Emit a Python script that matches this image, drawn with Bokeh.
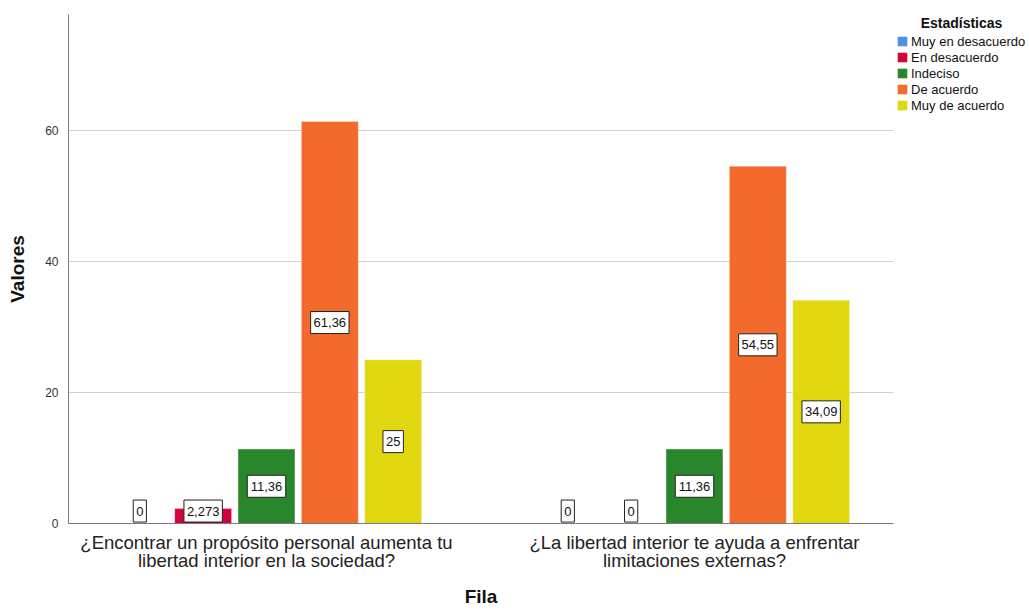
from bokeh.plotting import figure
from bokeh.layouts import row
from bokeh.models import (ColumnDataSource, Range1d, FixedTicker, Legend, LegendItem, Label)
from bokeh.core.properties import value
from bokeh.embed import file_html
from bokeh.resources import INLINE

categories = ["¿Encontrar un propósito personal aumenta tu\nlibertad interior en la sociedad?",
              "¿La libertad interior te ayuda a enfrentar\nlimitaciones externas?"]
series = ["Muy en desacuerdo", "En desacuerdo", "Indeciso", "De acuerdo", "Muy de acuerdo"]
muy_en_desacuerdo = [0, 0]
en_desacuerdo = [2.273, 0]
indeciso = [11.36, 11.36]
de_acuerdo = [61.36, 54.55]
muy_de_acuerdo = [25, 34.09]
values = [muy_en_desacuerdo, en_desacuerdo, indeciso, de_acuerdo, muy_de_acuerdo]
colors = ["#4C92E3", "#D5033C", "#2A862B", "#F26A2C", "#E2D812"]
y_ticks = [0, 20, 40, 60]

FONT = "Liberation Sans"
H = 610
TOP = 14
BOTTOM = 87


def text_width(s):
    return sum(3.6 if c == "," else 7.2 for c in s)


p = figure(width=895, height=H, output_backend="svg", toolbar_location=None,
           x_range=Range1d(-0.4626, 1.465), y_range=Range1d(0, 77.7),
           min_border_left=68, min_border_top=TOP, min_border_bottom=BOTTOM, min_border_right=2)
p.outline_line_color = None
p.background_fill_color = "white"
p.border_fill_color = "white"

step = 0.148
bw = 0.133
label_sources = []
for i, (name, vals, col) in enumerate(zip(series, values, colors)):
    xs = [g + (i - 2) * step for g in range(len(categories))]
    labs = [f"{v:.4g}".replace(".", ",") for v in vals]
    src = ColumnDataSource(dict(
        x=xs, top=vals,
        ly=[max(v / 2, 1.9) for v in vals],
        lab=labs,
        bw=[text_width(s) + 6 for s in labs]))
    p.vbar(x="x", top="top", width=bw, source=src, fill_color=col,
           line_color="white", line_alpha=0.35, line_width=1)
    label_sources.append(src)

for src in label_sources:
    p.rect(x="x", y="ly", width="bw", height=22, width_units="screen", height_units="screen",
           source=src, fill_color="white", line_color="#222222", line_width=1)
    p.text(x="x", y="ly", text="lab", source=src, text_align="center",
           text_baseline="middle", text_font=value(FONT), text_font_size="13px",
           text_color="#111111")

# axes
p.xaxis.ticker = FixedTicker(ticks=[0, 1])
p.xaxis.major_label_overrides = {0: categories[0], 1: categories[1]}
p.xaxis.major_label_text_font = FONT
p.xaxis.major_label_text_font_size = "18.5px"
p.xaxis.major_label_text_line_height = 0.9
p.xaxis.major_label_text_color = "#222222"
p.xaxis.major_label_standoff = 8
p.xaxis.axis_label = "Fila"
p.xaxis.axis_label_text_font = FONT
p.xaxis.axis_label_text_font_style = "bold"
p.xaxis.axis_label_text_font_size = "19px"
p.xaxis.axis_label_text_color = "#111111"
p.xaxis.axis_label_standoff = 12

p.yaxis.ticker = FixedTicker(ticks=y_ticks)
p.yaxis.major_label_text_font = FONT
p.yaxis.major_label_text_font_size = "12px"
p.yaxis.major_label_text_color = "#333333"
p.yaxis.major_label_standoff = 10
p.yaxis.axis_label = "Valores"
p.yaxis.axis_label_text_font = FONT
p.yaxis.axis_label_text_font_style = "bold"
p.yaxis.axis_label_text_font_size = "19px"
p.yaxis.axis_label_text_color = "#111111"
p.yaxis.axis_label_standoff = 14

for ax in (p.xaxis, p.yaxis):
    ax.axis_line_color = "#7a7a7a"
    ax.axis_line_width = 1
    ax.major_tick_line_color = None
    ax.minor_tick_line_color = None
    ax.major_tick_out = 0
    ax.major_tick_in = 0

p.xgrid.grid_line_color = None
p.ygrid.grid_line_color = "#cfcfcf"
p.ygrid.grid_line_width = 1
p.ygrid.ticker = FixedTicker(ticks=y_ticks[1:])

# legend panel (separate figure to the right of the plot; frames are aligned)
LW = 134
FRAME_H = H - TOP - BOTTOM
leg = figure(width=LW, height=H, output_backend="svg", toolbar_location=None,
             x_range=Range1d(0, 1), y_range=Range1d(0, 1),
             x_axis_type=None, y_axis_type=None,
             min_border_left=0, min_border_right=0, min_border_top=TOP,
             min_border_bottom=BOTTOM)
leg.outline_line_color = None
leg.grid.visible = False
leg.background_fill_color = "white"
leg.border_fill_color = "white"
items = []
for name, col in zip(series, colors):
    # invisible placeholder renderer (outside the panel's range), only used for the legend swatch
    r = leg.vbar(x=[-5], top=[-5], bottom=[-6], width=0.1, fill_color=col, line_color=None)
    items.append(LegendItem(label=name, renderers=[r]))
legend = Legend(items=items, location=(1, FRAME_H - 99),
                label_text_font=FONT, label_text_font_size="13px",
                label_text_color="#111111",
                label_height=16, label_standoff=3, glyph_width=12, glyph_height=12,
                spacing=0, padding=0, margin=0, border_line_color=None,
                background_fill_alpha=0)
leg.add_layout(legend, "center")
leg.add_layout(Label(x=66, y=FRAME_H - 8.5, x_units="screen", y_units="screen",
                     text="Estadísticas", text_align="center", text_baseline="middle",
                     text_font=FONT, text_font_style="bold", text_font_size="14px",
                     text_color="#111111"))

layout = row(p, leg)
open("out.html", "w").write(file_html(layout, INLINE))
